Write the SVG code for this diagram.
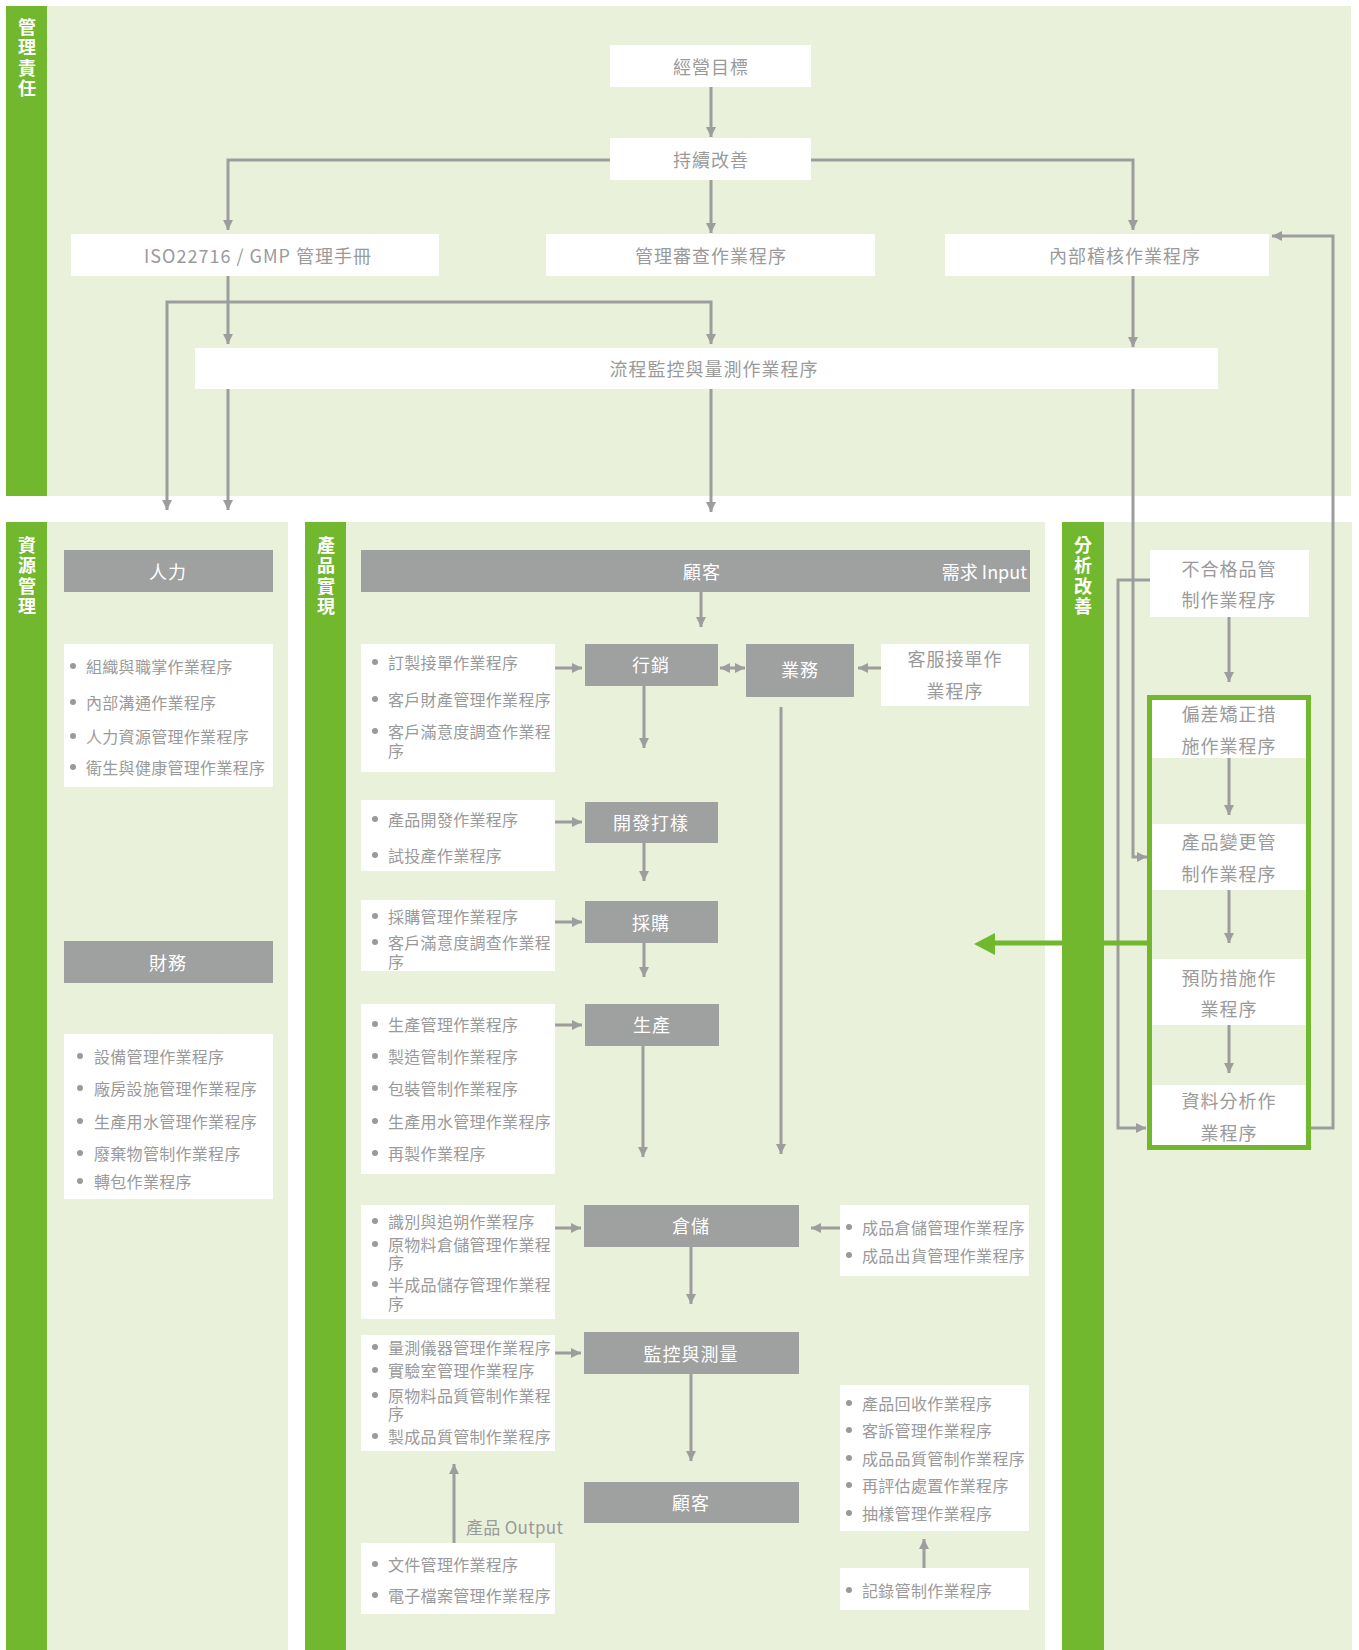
<svg xmlns="http://www.w3.org/2000/svg" width="1359" height="1650" viewBox="0 0 1359 1650">
<style>
.band{fill:#E9F1DA}
.bar{fill:#71B82E}
.vt{font-family:'Noto Sans CJK TC','Noto Sans',sans-serif;font-size:18px;font-weight:bold;fill:#fff;writing-mode:vertical-rl;letter-spacing:2.5px}
.wb{fill:#fff}
.gb{fill:#9FA0A0}
.t{font-family:'Noto Sans CJK TC','Noto Sans',sans-serif;font-size:18px;fill:#9a9a9a;text-anchor:middle;dominant-baseline:central;letter-spacing:1px}
.gt{fill:#fff}
.li{font-family:'Noto Sans CJK TC','Noto Sans',sans-serif;font-size:16px;fill:#9a9a9a;dominant-baseline:central;letter-spacing:0.3px}
.dot{fill:#9a9a9a}
.ca{stroke:#9d9d9d;stroke-width:3;fill:none;marker-end:url(#ah)}
</style>
<defs>
<marker id="ah" viewBox="0 0 10 10" refX="10" refY="5" markerWidth="10" markerHeight="10" markerUnits="userSpaceOnUse" orient="auto-start-reverse"><path d="M0,0 L10,5 L0,10 z" fill="#9d9d9d"/></marker>
</defs>

<!-- backgrounds -->
<g id="lanes">
<rect class="band" x="47" y="6" width="1304" height="490"/>
<rect class="bar" x="6" y="6" width="41" height="490"/>
<text class="vt" x="27" y="18">管理責任</text>

<rect class="band" x="47" y="522" width="241" height="1128"/>
<rect class="bar" x="6" y="522" width="41" height="1128"/>
<text class="vt" x="27" y="536">資源管理</text>

<rect class="band" x="346" y="522" width="699" height="1128"/>
<rect class="bar" x="305" y="522" width="41" height="1128"/>
<text class="vt" x="326" y="536">產品實現</text>

<rect class="band" x="1104" y="522" width="248" height="1128"/>
<rect class="bar" x="1062" y="522" width="42" height="1128"/>
<text class="vt" x="1083" y="536">分析改善</text>
</g>

<!-- top nodes -->
<g id="n-goal"><rect class="wb" x="610" y="45" width="201" height="42"/><text class="t" x="711" y="66">經營目標</text></g>
<g id="n-improve"><rect class="wb" x="610" y="138" width="201" height="42"/><text class="t" x="711" y="159">持續改善</text></g>
<g id="n-iso"><rect class="wb" x="71" y="234" width="368" height="42"/><text class="t" x="258" y="255">ISO22716 / GMP 管理手冊</text></g>
<g id="n-review"><rect class="wb" x="546" y="234" width="329" height="42"/><text class="t" x="711" y="255">管理審查作業程序</text></g>
<g id="n-audit"><rect class="wb" x="945" y="234" width="324" height="42"/><text class="t" x="1125" y="255">內部稽核作業程序</text></g>
<g id="n-monitor"><rect class="wb" x="195" y="348" width="1023" height="41"/><text class="t" x="714" y="368">流程監控與量測作業程序</text></g>

<!-- resource management -->
<g id="n-hr"><rect class="gb" x="64" y="550" width="209" height="42"/><text class="t gt" x="168" y="571">人力</text></g>
<g id="n-hr-list"><rect class="wb" x="64" y="644" width="209" height="143"/>
<circle class="dot" cx="73" cy="666" r="3"/><text class="li" x="86" y="666">組織與職掌作業程序</text>
<circle class="dot" cx="73" cy="702" r="3"/><text class="li" x="86" y="702">內部溝通作業程序</text>
<circle class="dot" cx="73" cy="736" r="3"/><text class="li" x="86" y="736">人力資源管理作業程序</text>
<circle class="dot" cx="73" cy="767" r="3"/><text class="li" x="86" y="767">衛生與健康管理作業程序</text>
</g>
<g id="n-finance"><rect class="gb" x="64" y="941" width="209" height="42"/><text class="t gt" x="168" y="962">財務</text></g>
<g id="n-fin-list"><rect class="wb" x="64" y="1034" width="209" height="165"/>
<circle class="dot" cx="80" cy="1056" r="3"/><text class="li" x="94" y="1056">設備管理作業程序</text>
<circle class="dot" cx="80" cy="1088" r="3"/><text class="li" x="94" y="1088">廠房設施管理作業程序</text>
<circle class="dot" cx="80" cy="1121" r="3"/><text class="li" x="94" y="1121">生產用水管理作業程序</text>
<circle class="dot" cx="80" cy="1153" r="3"/><text class="li" x="94" y="1153">廢棄物管制作業程序</text>
<circle class="dot" cx="80" cy="1181" r="3"/><text class="li" x="94" y="1181">轉包作業程序</text>
</g>

<!-- product realization -->
<g id="n-cust-in"><rect class="gb" x="361" y="550" width="669" height="42"/><text class="t gt" x="702" y="571">顧客</text><text class="t gt" x="1027" y="571" style="text-anchor:end;letter-spacing:0">需求 Input</text></g>
<g id="n-mkt"><rect class="gb" x="585" y="644" width="133" height="42"/><text class="t gt" x="651" y="664">行銷</text></g>
<g id="n-sales"><rect class="gb" x="746" y="644" width="108" height="53"/><text class="t gt" x="800" y="669">業務</text></g>
<g id="n-cs"><rect class="wb" x="881" y="644" width="148" height="62"/><text class="t" x="955" y="658">客服接單作<tspan x="955" dy="32">業程序</tspan></text></g>
<g id="n-list1"><rect class="wb" x="361" y="644" width="194" height="128"/>
<circle class="dot" cx="375" cy="662" r="3"/><text class="li" x="388" y="662">訂製接單作業程序</text>
<circle class="dot" cx="375" cy="699" r="3"/><text class="li" x="388" y="699">客戶財產管理作業程序</text>
<circle class="dot" cx="375" cy="731" r="3"/><text class="li" x="388" y="731">客戶滿意度調查作業程<tspan x="388" dy="19">序</tspan></text>
</g>
<g id="n-list2"><rect class="wb" x="361" y="800" width="194" height="71"/>
<circle class="dot" cx="375" cy="819" r="3"/><text class="li" x="388" y="819">產品開發作業程序</text>
<circle class="dot" cx="375" cy="855" r="3"/><text class="li" x="388" y="855">試投產作業程序</text>
</g>
<g id="n-dev"><rect class="gb" x="585" y="802" width="133" height="41"/><text class="t gt" x="651" y="822">開發打樣</text></g>
<g id="n-list3"><rect class="wb" x="361" y="900" width="194" height="71"/>
<circle class="dot" cx="375" cy="916" r="3"/><text class="li" x="388" y="916">採購管理作業程序</text>
<circle class="dot" cx="375" cy="942" r="3"/><text class="li" x="388" y="942">客戶滿意度調查作業程<tspan x="388" dy="19">序</tspan></text>
</g>
<g id="n-purchase"><rect class="gb" x="585" y="901" width="133" height="42"/><text class="t gt" x="651" y="922">採購</text></g>
<g id="n-list4"><rect class="wb" x="361" y="1004" width="194" height="170"/>
<circle class="dot" cx="375" cy="1024" r="3"/><text class="li" x="388" y="1024">生產管理作業程序</text>
<circle class="dot" cx="375" cy="1056" r="3"/><text class="li" x="388" y="1056">製造管制作業程序</text>
<circle class="dot" cx="375" cy="1088" r="3"/><text class="li" x="388" y="1088">包裝管制作業程序</text>
<circle class="dot" cx="375" cy="1121" r="3"/><text class="li" x="388" y="1121">生產用水管理作業程序</text>
<circle class="dot" cx="375" cy="1153" r="3"/><text class="li" x="388" y="1153">再製作業程序</text>
</g>
<g id="n-prod"><rect class="gb" x="585" y="1004" width="134" height="42"/><text class="t gt" x="652" y="1024">生產</text></g>
<g id="n-list5"><rect class="wb" x="361" y="1205" width="194" height="114"/>
<circle class="dot" cx="375" cy="1221" r="3"/><text class="li" x="388" y="1221">識別與追朔作業程序</text>
<circle class="dot" cx="375" cy="1244" r="3"/><text class="li" x="388" y="1244">原物料倉儲管理作業程<tspan x="388" dy="18">序</tspan></text>
<circle class="dot" cx="375" cy="1284" r="3"/><text class="li" x="388" y="1284">半成品儲存管理作業程<tspan x="388" dy="19">序</tspan></text>
</g>
<g id="n-wh"><rect class="gb" x="584" y="1205" width="215" height="42"/><text class="t gt" x="691" y="1225">倉儲</text></g>
<g id="n-list5r"><rect class="wb" x="840" y="1205" width="189" height="71"/>
<circle class="dot" cx="849" cy="1227" r="3"/><text class="li" x="862" y="1227">成品倉儲管理作業程序</text>
<circle class="dot" cx="849" cy="1255" r="3"/><text class="li" x="862" y="1255">成品出貨管理作業程序</text>
</g>
<g id="n-list6"><rect class="wb" x="361" y="1335" width="194" height="116"/>
<circle class="dot" cx="375" cy="1347" r="3"/><text class="li" x="388" y="1347">量測儀器管理作業程序</text>
<circle class="dot" cx="375" cy="1370" r="3"/><text class="li" x="388" y="1370">實驗室管理作業程序</text>
<circle class="dot" cx="375" cy="1395" r="3"/><text class="li" x="388" y="1395">原物料品質管制作業程<tspan x="388" dy="18">序</tspan></text>
<circle class="dot" cx="375" cy="1436" r="3"/><text class="li" x="388" y="1436">製成品質管制作業程序</text>
</g>
<g id="n-mm"><rect class="gb" x="584" y="1332" width="215" height="42"/><text class="t gt" x="691" y="1353">監控與測量</text></g>
<g id="n-cust-out"><rect class="gb" x="584" y="1482" width="215" height="41"/><text class="t gt" x="691" y="1502">顧客</text></g>
<g id="n-list6r"><rect class="wb" x="840" y="1385" width="189" height="146"/>
<circle class="dot" cx="849" cy="1403" r="3"/><text class="li" x="862" y="1403">產品回收作業程序</text>
<circle class="dot" cx="849" cy="1430" r="3"/><text class="li" x="862" y="1430">客訴管理作業程序</text>
<circle class="dot" cx="849" cy="1458" r="3"/><text class="li" x="862" y="1458">成品品質管制作業程序</text>
<circle class="dot" cx="849" cy="1485" r="3"/><text class="li" x="862" y="1485">再評估處置作業程序</text>
<circle class="dot" cx="849" cy="1513" r="3"/><text class="li" x="862" y="1513">抽樣管理作業程序</text>
</g>
<g id="n-record"><rect class="wb" x="840" y="1568" width="189" height="42"/>
<circle class="dot" cx="849" cy="1590" r="3"/><text class="li" x="862" y="1590">記錄管制作業程序</text>
</g>
<g id="n-doc"><rect class="wb" x="361" y="1543" width="194" height="71"/>
<circle class="dot" cx="375" cy="1564" r="3"/><text class="li" x="388" y="1564">文件管理作業程序</text>
<circle class="dot" cx="375" cy="1595" r="3"/><text class="li" x="388" y="1595">電子檔案管理作業程序</text>
</g>
<g id="l-output"><text class="li" x="466" y="1526" style="font-size:17px">產品 Output</text></g>

<!-- analysis & improvement -->
<g id="n-nonconf"><rect class="wb" x="1150" y="550" width="159" height="67"/><text class="t" x="1229" y="568">不合格品管<tspan x="1229" dy="31">制作業程序</tspan></text></g>
<g id="n-deviation"><rect class="wb" x="1152" y="700" width="154" height="58"/><text class="t" x="1229" y="713">偏差矯正措<tspan x="1229" dy="32">施作業程序</tspan></text></g>
<g id="n-change"><rect class="wb" x="1152" y="824" width="154" height="66"/><text class="t" x="1229" y="841">產品變更管<tspan x="1229" dy="32">制作業程序</tspan></text></g>
<g id="n-prevent"><rect class="wb" x="1152" y="959" width="154" height="66"/><text class="t" x="1229" y="977">預防措施作<tspan x="1229" dy="31">業程序</tspan></text></g>
<g id="n-data"><rect class="wb" x="1152" y="1085" width="154" height="60"/><text class="t" x="1229" y="1100">資料分析作<tspan x="1229" dy="32">業程序</tspan></text></g>
<g id="n-frame"><rect x="1149.5" y="697.5" width="159" height="450" fill="none" stroke="#71B82E" stroke-width="5"/></g>

<!-- connectors -->
<g id="connectors">
<path class="ca" d="M711,87 V137"/>
<path class="ca" d="M711,180 V233"/>
<path class="ca" d="M610,160 H228 V230"/>
<path class="ca" d="M811,160 H1133 V230"/>
<path class="ca" d="M228,276 V344"/>
<path class="ca" d="M711,344 V302 H167 V510" style="marker-start:url(#ah)"/>
<path class="ca" d="M228,389 V510"/>
<path class="ca" d="M711,389 V512"/>
<path class="ca" d="M1133,276 V347"/>
<path class="ca" d="M1133,389 V857 H1147"/>
<path class="ca" d="M1311,1128 H1333 V236 H1272"/>

<path class="ca" d="M701,592 V627"/>
<path class="ca" d="M720,668 H745" style="marker-start:url(#ah)"/>
<path class="ca" d="M881,668 H858"/>
<path class="ca" d="M555,668 H582"/>
<path class="ca" d="M644,686 V748"/>
<path class="ca" d="M781,707 V1154"/>
<path class="ca" d="M555,822 H582"/>
<path class="ca" d="M644,843 V881"/>
<path class="ca" d="M555,922 H582"/>
<path class="ca" d="M644,943 V977"/>
<path class="ca" d="M555,1025 H582"/>
<path class="ca" d="M643,1046 V1157"/>
<path class="ca" d="M555,1228 H581"/>
<path class="ca" d="M840,1228 H811"/>
<path class="ca" d="M691,1247 V1304"/>
<path class="ca" d="M555,1353 H581"/>
<path class="ca" d="M691,1374 V1461"/>
<path class="ca" d="M924,1568 V1539"/>
<path class="ca" d="M454,1543 V1464"/>

<path class="ca" d="M1229,617 V682"/>
<path class="ca" d="M1150,580 H1118 V1128 H1146"/>
<path class="ca" d="M1229,758 V815"/>
<path class="ca" d="M1229,890 V943"/>
<path class="ca" d="M1229,1025 V1073"/>

<path d="M1147,943 H990" stroke="#71B82E" stroke-width="5" fill="none"/>
<polygon points="974,944 995,933 995,955" fill="#71B82E"/>
</g>
</svg>
